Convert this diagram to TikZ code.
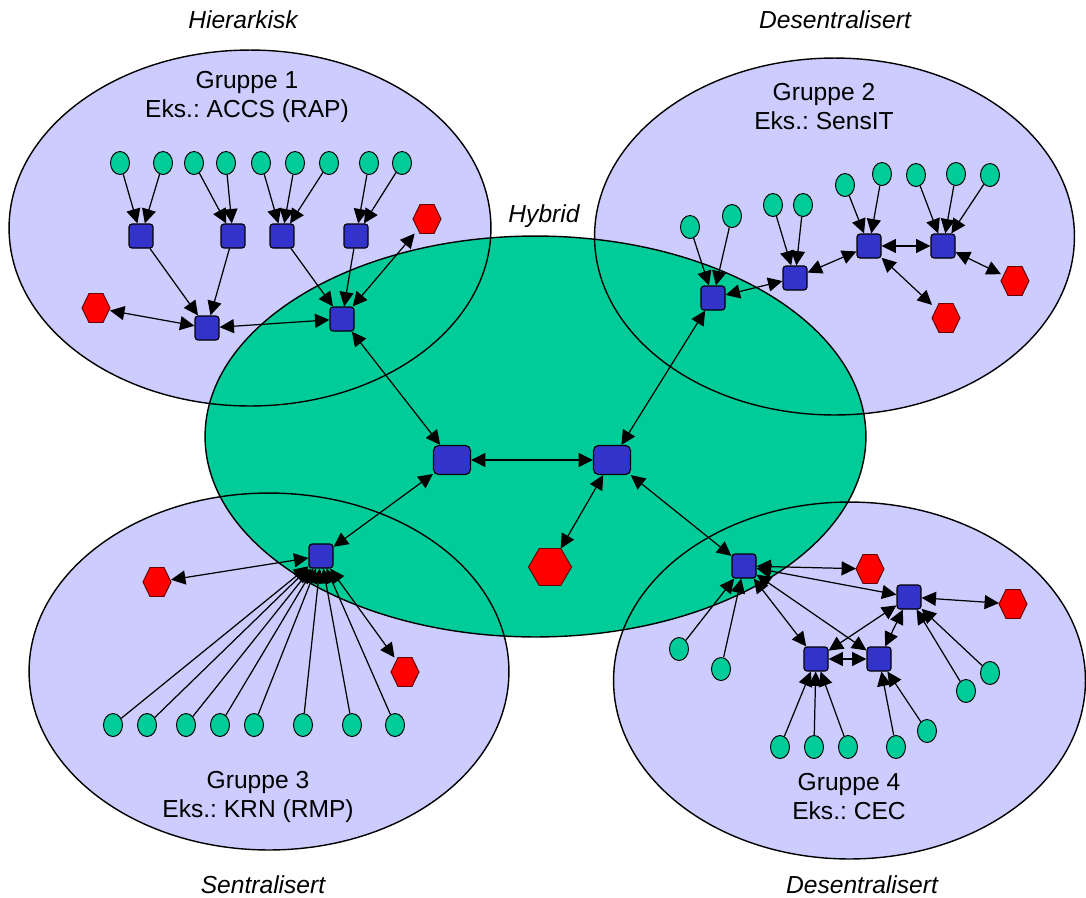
\documentclass[tikz,border=0pt]{standalone}
\usepackage{fontspec}
\setmainfont{Liberation Sans}
\frenchspacing
\usetikzlibrary{shapes.geometric,arrows.meta,calc}
\definecolor{lav}{RGB}{204,204,255}
\definecolor{hyb}{RGB}{0,204,153}
\definecolor{sqblue}{RGB}{51,51,204}
\definecolor{hexred}{RGB}{255,0,0}
\definecolor{hexedge}{RGB}{100,0,0}
\tikzset{
  sensor/.style={ellipse, draw, fill=hyb, minimum width=0.38cm, minimum height=0.46cm, inner sep=0pt, line width=0.55pt},
  router/.style={rectangle, rounded corners=0.06cm, draw, fill=sqblue, minimum size=0.48cm, inner sep=0pt, line width=0.65pt},
  core/.style={rectangle, rounded corners=0.1cm, draw, fill=sqblue, minimum width=0.74cm, minimum height=0.58cm, inner sep=0pt, line width=0.65pt},
  sink/.style={rectangle, inner sep=0pt, outer sep=0pt, minimum width=0.56cm, minimum height=0.58cm},
  bigsink/.style={sink, minimum width=0.86cm, minimum height=0.74cm},
  hexfill/.style={draw=hexedge, fill=hexred, line width=0.55pt, line join=miter},
  tip/.tip={Triangle[length=8.2pt,width=8pt]},
  link/.style={-tip, line width=0.7pt},
  dlink/.style={tip-tip, line width=0.7pt},
  region/.style={line width=0.8pt},
  grouptext/.style={align=center, font=\fontsize{14}{16.5}\selectfont},
  kind/.style={font=\fontsize{14}{16.5}\selectfont\itshape},
}
\begin{document}
\begin{tikzpicture}[x=0.02cm, y=-0.02cm]
\useasboundingbox (0,0) rectangle (1086,897);

% group regions (fill), hybrid core, then group outlines on top
\fill[lav] (250,228) ellipse [x radius=4.82cm, y radius=3.56cm];
\fill[lav] (834.5,236.5) ellipse [x radius=4.8cm, y radius=3.57cm];
\fill[lav] (269,671.5) ellipse [x radius=4.8cm, y radius=3.57cm];
\fill[lav] (849.5,680.5) ellipse [x radius=4.72cm, y radius=3.57cm];
\draw[region, fill=hyb] (535.5,436.5) ellipse [x radius=6.61cm, y radius=4.01cm];
\draw[region] (250,228) ellipse [x radius=4.82cm, y radius=3.56cm];
\draw[region] (834.5,236.5) ellipse [x radius=4.8cm, y radius=3.57cm];
\draw[region] (269,671.5) ellipse [x radius=4.8cm, y radius=3.57cm];
\draw[region] (849.5,680.5) ellipse [x radius=4.72cm, y radius=3.57cm];

% labels
\node[kind] (lhier) at (243,20) {Hierarkisk};
\node[kind] (ldes1) at (835,20) {Desentralisert};
\node[kind] (lhyb) at (544,216) {Hybrid};
\node[kind] (lsen) at (263,885) {Sentralisert};
\node[kind] (ldes2) at (862,885) {Desentralisert};
\node[grouptext] (g1) at (247,97) {Gruppe 1\\Eks.: ACCS (RAP)};
\node[grouptext] (g2) at (824,107) {Gruppe 2\\Eks.: SensIT};
\node[grouptext] (g3) at (258,797) {Gruppe 3\\Eks.: KRN (RMP)};
\node[grouptext] (g4) at (849,797) {Gruppe 4\\Eks.: CEC};

% ---- group 1: hierarchical
\foreach \n/\x in {a/120,b/163,c/194,d/226,e/261,f/295,g/329,h/369,i/402}
  \node[sensor] (s1\n) at (\x,163) {};
\node[router] (r1a) at (141,236) {};
\node[router] (r1b) at (233,236) {};
\node[router] (r1c) at (282,236) {};
\node[router] (r1d) at (356,236) {};
\node[router] (r1e) at (207,328) {};
\node[router] (r1f) at (342,319) {};
\node[sink] (h1a) at (96,308) {};
\node[sink] (h1b) at (427,219) {};

% ---- group 2: decentralised
\node[sensor] (s2a) at (690,227) {};
\node[sensor] (s2b) at (732,216) {};
\node[sensor] (s2c) at (773,205) {};
\node[sensor] (s2d) at (803,205) {};
\node[sensor] (s2e) at (845,185) {};
\node[sensor] (s2f) at (882,174) {};
\node[sensor] (s2g) at (916,175) {};
\node[sensor] (s2h) at (956,174) {};
\node[sensor] (s2i) at (990,175) {};
\node[router] (r2a) at (713,298) {};
\node[router] (r2b) at (795,278) {};
\node[router] (r2c) at (869,246) {};
\node[router] (r2d) at (943,246) {};
\node[sink] (h2a) at (946,318) {};
\node[sink] (h2b) at (1015,281) {};

% ---- group 3: centralised
\foreach \n/\x in {a/113,b/147,c/186,d/220,e/254,f/303,g/352,h/395}
  \node[sensor] (s3\n) at (\x,725) {};
\node[router] (r3) at (321,556) {};
\node[sink] (h3a) at (157,582) {};
\node[sink] (h3b) at (405,672) {};

% ---- group 4: decentralised
\node[sensor] (s4a) at (679,649) {};
\node[sensor] (s4b) at (721,669) {};
\node[sensor] (s4c) at (780,747) {};
\node[sensor] (s4d) at (814,747) {};
\node[sensor] (s4e) at (848,747) {};
\node[sensor] (s4f) at (896,747) {};
\node[sensor] (s4g) at (927,731) {};
\node[sensor] (s4h) at (966,691) {};
\node[sensor] (s4i) at (990,673) {};
\node[router] (r4a) at (744,566) {};
\node[router] (r4b) at (909,597) {};
\node[router] (r4c) at (816,659) {};
\node[router] (r4d) at (879,659) {};
\node[sink] (h4a) at (870,569) {};
\node[sink] (h4b) at (1013,604) {};

% ---- hybrid core
\node[core] (cl) at (452,460) {};
\node[core] (cr) at (612,460) {};
\node[bigsink] (ch) at (550,567) {};

% hexagonal sinks
\foreach \h in {h1a,h1b,h2a,h2b,h3a,h3b,h4a,h4b,ch}
  \draw[hexfill] (\h.west) -- ($(\h.north west)!.25!(\h.north east)$)
    -- ($(\h.north west)!.75!(\h.north east)$) -- (\h.east)
    -- ($(\h.south west)!.75!(\h.south east)$)
    -- ($(\h.south west)!.25!(\h.south east)$) -- cycle;

% ---- links, group 1
\foreach \s/\r in {s1a/r1a,s1b/r1a,s1c/r1b,s1d/r1b,s1e/r1c,s1f/r1c,s1g/r1c,s1h/r1d,s1i/r1d,r1a/r1e,r1b/r1e,r1c/r1f,r1d/r1f}
  \draw[link] (\s) -- (\r);
\draw[dlink] (h1a) -- (r1e);
\draw[dlink] (r1e) -- (r1f);
\draw[dlink] (r1f) -- (h1b);

% ---- links, group 2
\foreach \s/\r in {s2a/r2a,s2b/r2a,s2c/r2b,s2d/r2b,s2e/r2c,s2f/r2c,s2g/r2d,s2h/r2d,s2i/r2d}
  \draw[link] (\s) -- (\r);
\draw[dlink] (r2a) -- (r2b);
\draw[dlink] (r2b) -- (r2c);
\draw[dlink] (r2c) -- (r2d);
\draw[dlink] (r2c) -- (h2a);
\draw[dlink] (r2d) -- (h2b);

% ---- links, group 3
\foreach \s in {s3a,s3b,s3c,s3d,s3e,s3f,s3g,s3h}
  \draw[link] (\s) -- (r3);
\draw[dlink] (h3a) -- (r3);
\draw[dlink] (r3) -- (h3b);

% ---- links, group 4
\foreach \s/\r in {s4a/r4a,s4b/r4a,s4c/r4c,s4d/r4c,s4e/r4c,s4f/r4d,s4g/r4d,s4h/r4b,s4i/r4b}
  \draw[link] (\s) -- (\r);
\draw[dlink] (r4a) -- (h4a);
\draw[dlink] (r4a) -- (r4b);
\draw[dlink] (r4a) -- (r4c);
\draw[dlink] (r4a) -- (r4d);
\draw[dlink] (r4b) -- (r4c);
\draw[dlink] (r4b) -- (r4d);
\draw[dlink] (r4c) -- (r4d);
\draw[dlink] (r4b) -- (h4b);

% ---- hybrid backbone
\draw[dlink] (cl) -- (cr);
\draw[dlink] (cr) -- (ch);
\draw[dlink] (cl) -- (r1f);
\draw[dlink] (cl) -- (r3);
\draw[dlink] (cr) -- (r2a);
\draw[dlink] (cr) -- (r4a);
\end{tikzpicture}
\end{document}
